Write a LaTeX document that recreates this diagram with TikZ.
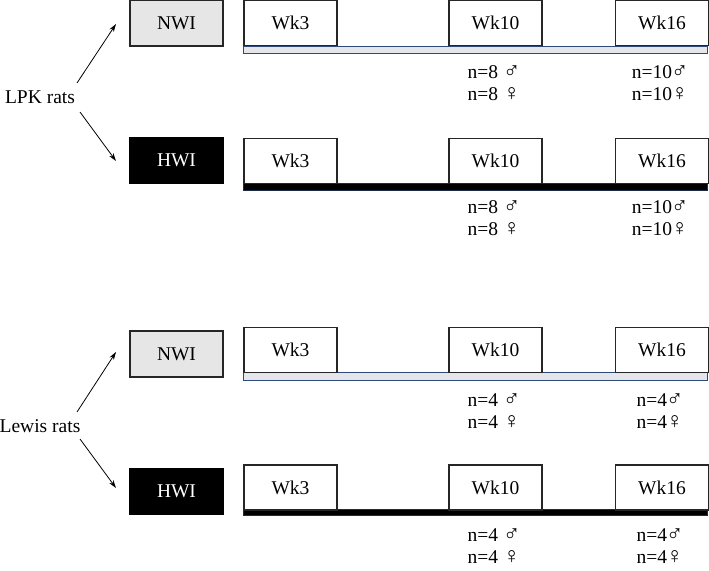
\documentclass[tikz,border=0pt]{standalone}
\usepackage{fontspec}
\setmainfont{Liberation Serif}
\newcommand{\mal}{\smash{\fontsize{23}{21}\selectfont ♂}}
\newcommand{\fem}{\smash{\fontsize{23}{21}\selectfont ♀}}
\usetikzlibrary{arrows.meta}
\definecolor{nwigray}{HTML}{E6E6E6}
\definecolor{barlight}{HTML}{E4E6EC}
\definecolor{barblue}{HTML}{2E4A7A}
\tikzset{
  txt/.style={font=\fontsize{19.5}{21.5}\selectfont},
  wkbox/.style={draw=black!85, line width=1.1pt, fill=white, minimum width=93pt, minimum height=45pt, inner sep=0pt, txt},
  nwibox/.style={draw=black!85, line width=1.1pt, fill=nwigray, minimum width=93pt, minimum height=46pt, inner sep=0pt, txt},
  hwibox/.style={draw=black, line width=1.1pt, fill=black, text=white, minimum width=93pt, minimum height=46pt, inner sep=0pt, txt},
  nwibar/.style={draw=barblue, line width=0.8pt, fill=barlight},
  hwibar/.style={draw=barblue!60!black, line width=0.8pt, fill=black},
  cnt/.style={txt, align=left, inner sep=0pt},
  arr/.style={-{Stealth[length=8pt,width=5pt]}, line width=0.8pt}
}
\begin{document}
\begin{tikzpicture}[x=1pt,y=-1pt]
\useasboundingbox (0,0) rectangle (709,570);
% ---------- LPK NWI ----------
\draw[nwibar] (243.5,46) rectangle (707.5,53);
\node[nwibox] (lnwi) at (176.5,23) {NWI};
\node[wkbox] (lnw3) at (290.5,23) {Wk3};
\node[wkbox] (lnw10) at (495.5,23) {Wk10};
\node[wkbox] (lnw16) at (662,23) {Wk16};
\node[cnt] (lnc10) at (494,83) {n=8 \mal\\n=8 \fem};
\node[cnt] (lnc16) at (660,83) {n=10\kern-1pt\mal\\n=10\kern-1pt\fem};
% ---------- LPK HWI ----------
\draw[hwibar] (243.5,183) rectangle (707.5,190);
\node[hwibox] (lhwi) at (176.5,160.5) {HWI};
\node[wkbox] (lhw3) at (290.5,161) {Wk3};
\node[wkbox] (lhw10) at (495.5,161) {Wk10};
\node[wkbox] (lhw16) at (662,161) {Wk16};
\node[cnt] (lhc10) at (494,218) {n=8 \mal\\n=8 \fem};
\node[cnt] (lhc16) at (660,218) {n=10\kern-1pt\mal\\n=10\kern-1pt\fem};
% ---------- LPK label ----------
\node[txt] (lpk) at (40,97) {LPK rats};
\coordinate (lpkup) at (77,83);
\coordinate (lpkdn) at (80,112);
\coordinate (lpkupend) at (116,24);
\coordinate (lpkdnend) at (116,161);
\draw[arr] (lpkup) -- (lpkupend);
\draw[arr] (lpkdn) -- (lpkdnend);
% ---------- Lewis NWI ----------
\draw[nwibar] (243.5,372.5) rectangle (707.5,380);
\node[nwibox] (wnwi) at (176.5,354) {NWI};
\node[wkbox] (wnw3) at (290.5,350) {Wk3};
\node[wkbox] (wnw10) at (495.5,350) {Wk10};
\node[wkbox] (wnw16) at (662,350) {Wk16};
\node[cnt] (wnc10) at (494,411) {n=4 \mal\\n=4 \fem};
\node[cnt] (wnc16) at (660,411) {n=4\kern-1pt\mal\\n=4\kern-1pt\fem};
% ---------- Lewis HWI ----------
\draw[hwibar] (243.5,509.5) rectangle (707.5,515);
\node[hwibox] (whwi) at (176.5,491.5) {HWI};
\node[wkbox] (whw3) at (290.5,487.5) {Wk3};
\node[wkbox] (whw10) at (495.5,487.5) {Wk10};
\node[wkbox] (whw16) at (662,487.5) {Wk16};
\node[cnt] (whc10) at (494,546) {n=4 \mal\\n=4 \fem};
\node[cnt] (whc16) at (660,546) {n=4\kern-1pt\mal\\n=4\kern-1pt\fem};
% ---------- Lewis label ----------
\node[txt] (lew) at (40,426) {Lewis rats};
\coordinate (lewup) at (77,412);
\coordinate (lewdn) at (80,439);
\coordinate (lewupend) at (116,352);
\coordinate (lewdnend) at (116,488);
\draw[arr] (lewup) -- (lewupend);
\draw[arr] (lewdn) -- (lewdnend);
\end{tikzpicture}
\end{document}
